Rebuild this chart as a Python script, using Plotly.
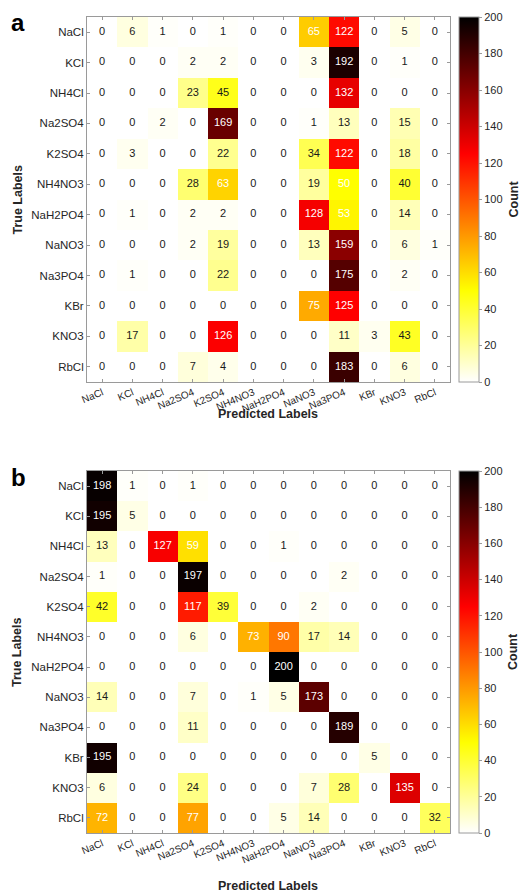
import plotly.graph_objects as go

labels = ["NaCl", "KCl", "NH4Cl", "Na2SO4", "K2SO4", "NH4NO3", "NaH2PO4",
          "NaNO3", "Na3PO4", "KBr", "KNO3", "RbCl"]

counts_a = [
    [0, 6, 1, 0, 1, 0, 0, 65, 122, 0, 5, 0],
    [0, 0, 0, 2, 2, 0, 0, 3, 192, 0, 1, 0],
    [0, 0, 0, 23, 45, 0, 0, 0, 132, 0, 0, 0],
    [0, 0, 2, 0, 169, 0, 0, 1, 13, 0, 15, 0],
    [0, 3, 0, 0, 22, 0, 0, 34, 122, 0, 18, 0],
    [0, 0, 0, 28, 63, 0, 0, 19, 50, 0, 40, 0],
    [0, 1, 0, 2, 2, 0, 0, 128, 53, 0, 14, 0],
    [0, 0, 0, 2, 19, 0, 0, 13, 159, 0, 6, 1],
    [0, 1, 0, 0, 22, 0, 0, 0, 175, 0, 2, 0],
    [0, 0, 0, 0, 0, 0, 0, 75, 125, 0, 0, 0],
    [0, 17, 0, 0, 126, 0, 0, 0, 11, 3, 43, 0],
    [0, 0, 0, 7, 4, 0, 0, 0, 183, 0, 6, 0],
]

counts_b = [
    [198, 1, 0, 1, 0, 0, 0, 0, 0, 0, 0, 0],
    [195, 5, 0, 0, 0, 0, 0, 0, 0, 0, 0, 0],
    [13, 0, 127, 59, 0, 0, 1, 0, 0, 0, 0, 0],
    [1, 0, 0, 197, 0, 0, 0, 0, 2, 0, 0, 0],
    [42, 0, 0, 117, 39, 0, 0, 2, 0, 0, 0, 0],
    [0, 0, 0, 6, 0, 73, 90, 17, 14, 0, 0, 0],
    [0, 0, 0, 0, 0, 0, 200, 0, 0, 0, 0, 0],
    [14, 0, 0, 7, 0, 1, 5, 173, 0, 0, 0, 0],
    [0, 0, 0, 11, 0, 0, 0, 0, 189, 0, 0, 0],
    [195, 0, 0, 0, 0, 0, 0, 0, 0, 5, 0, 0],
    [6, 0, 0, 24, 0, 0, 0, 7, 28, 0, 135, 0],
    [72, 0, 0, 77, 0, 0, 5, 14, 0, 0, 0, 32],
]

cbar_ticks = [0, 20, 40, 60, 80, 100, 120, 140, 160, 180, 200]

W, H = 522, 895
# plot frame in screen pixels: x 87..450, y 17..833
ML, MT = 87, 17
MR, MB = W - 450, H - 833
PW, PH = W - ML - MR, H - MT - MB
FONT = "Liberation Sans, Arial, sans-serif"
TXT = "#262626"
AX = "#9a9a9a"


def px(xs):
    return (xs - ML) / PW


def py(ys):
    return 1 - (ys - MT) / PH


hot_r = [[0.0, "rgb(255,255,255)"], [0.25, "rgb(255,255,0)"],
         [0.625, "rgb(255,0,0)"], [1.0, "rgb(0,0,0)"]]

# (top px, bottom px, data, tag, x axis, y axis, x-title y px)
panels = [(17, 382, counts_a, "a", "x", "y", 414),
          (471, 833, counts_b, "b", "x2", "y2", 886)]

fig = go.Figure()
layout = dict(template="none", width=W, height=H,
              margin=dict(l=ML, r=MR, t=MT, b=MB, autoexpand=False),
              paper_bgcolor="white", plot_bgcolor="white",
              font=dict(family=FONT, color=TXT, size=11), showlegend=False)
annotations = []

for i, (top, bot, z, tag, xa, ya, xt) in enumerate(panels):
    ymid = py((top + bot) / 2)
    fig.add_trace(go.Heatmap(
        z=z, x=labels, y=labels, xaxis=xa, yaxis=ya,
        colorscale=hot_r, zmin=0, zmax=200, xgap=0, ygap=0,
        hoverinfo="skip",
        colorbar=dict(x=px(459), xanchor="left", thickness=20, xpad=0, ypad=0,
                      lenmode="pixels", len=bot - top, y=ymid, yanchor="middle",
                      tickvals=cbar_ticks, ticks="outside", ticklen=3,
                      tickcolor=AX, outlinecolor=AX, outlinewidth=1,
                      tickfont=dict(size=11, color=TXT, family=FONT))))
    xs, ys, ts, cs = [], [], [], []
    for r, row in enumerate(z):
        for c, v in enumerate(row):
            xs.append(labels[c]); ys.append(labels[r]); ts.append(str(v))
            cs.append("white" if v >= 48 else "#1a1a1a")
    fig.add_trace(go.Scatter(x=xs, y=ys, text=ts, mode="text", xaxis=xa, yaxis=ya,
                             textfont=dict(size=11, color=cs, family=FONT),
                             hoverinfo="skip", cliponaxis=False))
    xkey = "xaxis" if i == 0 else "xaxis2"
    ykey = "yaxis" if i == 0 else "yaxis2"
    layout[xkey] = dict(domain=[0, 1], anchor=ya, automargin=False,
                        range=[-0.5, 11.5],
                        tickangle=-23, ticks="inside", ticklen=3, tickcolor=AX,
                        showline=True, linecolor=AX, linewidth=1, mirror="ticks",
                        showgrid=False, zeroline=False,
                        tickfont=dict(size=10, color=TXT),
                        categoryorder="array", categoryarray=labels)
    layout[ykey] = dict(domain=[py(bot), py(top)], anchor=xa, automargin=False,
                        range=[11.5, -0.5], ticks="inside", ticklen=3, tickcolor=AX,
                        showline=True, linecolor=AX, linewidth=1, mirror="ticks",
                        showgrid=False, zeroline=False,
                        tickfont=dict(size=11.5, color=TXT),
                        categoryorder="array", categoryarray=labels)
    annotations.append(dict(text=f"<b>{tag}</b>", x=px(18), y=py(top + 6),
                            xanchor="center", yanchor="middle",
                            xref="paper", yref="paper", showarrow=False,
                            font=dict(size=24, color="black", family=FONT)))
    annotations.append(dict(text="<b>True Labels</b>", x=px(17), y=ymid,
                            xanchor="center", yanchor="middle",
                            xref="paper", yref="paper", showarrow=False, textangle=-90,
                            font=dict(size=12.5, color=TXT, family=FONT)))
    annotations.append(dict(text="<b>Count</b>", x=px(513), y=ymid,
                            xanchor="center", yanchor="middle",
                            xref="paper", yref="paper", showarrow=False, textangle=-90,
                            font=dict(size=12.5, color=TXT, family=FONT)))
    annotations.append(dict(text="<b>Predicted Labels</b>", x=px(268),
                            y=py(xt), xanchor="center", yanchor="middle",
                            xref="paper", yref="paper", showarrow=False,
                            font=dict(size=12.5, color=TXT, family=FONT)))

layout["annotations"] = annotations
fig.update_layout(**layout)
fig.write_html("out.html", config={"displayModeBar": False},
               post_script="document.body.style.margin='0';"
                           "document.body.style.overflow='hidden';")
